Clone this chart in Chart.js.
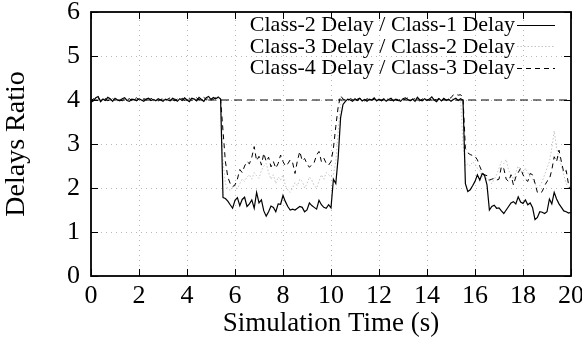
<!DOCTYPE html>
<html><head><meta charset="utf-8">
<script src="https://cdn.jsdelivr.net/npm/chart.js@4"></script>
<style>html,body{margin:0;padding:0;background:#fff;}canvas{display:block;}</style>
</head><body>
<canvas id="c" width="582" height="341"></canvas>
<script>
const times = [
0,0.1,0.2,0.3,0.4,0.5,0.6,0.7,0.8,0.9,
1,1.1,1.2,1.3,1.4,1.5,1.6,1.7,1.8,1.9,
2,2.1,2.2,2.3,2.4,2.5,2.6,2.7,2.8,2.9,
3,3.1,3.2,3.3,3.4,3.5,3.6,3.7,3.8,3.9,
4,4.1,4.2,4.3,4.4,4.5,4.6,4.7,4.8,4.9,
5,5.1,5.2,5.3,5.4,5.5,5.6,5.7,5.8,5.9,
6,6.1,6.2,6.3,6.4,6.5,6.6,6.7,6.8,6.9,
7,7.1,7.2,7.3,7.4,7.5,7.6,7.7,7.8,7.9,
8,8.1,8.2,8.3,8.4,8.5,8.6,8.7,8.8,8.9,
9,9.1,9.2,9.3,9.4,9.5,9.6,9.7,9.8,9.9,
10,10.1,10.2,10.3,10.4,10.5,10.6,10.7,10.8,10.9,
11,11.1,11.2,11.3,11.4,11.5,11.6,11.7,11.8,11.9,
12,12.1,12.2,12.3,12.4,12.5,12.6,12.7,12.8,12.9,
13,13.1,13.2,13.3,13.4,13.5,13.6,13.7,13.8,13.9,
14,14.1,14.2,14.3,14.4,14.5,14.6,14.7,14.8,14.9,
15,15.1,15.2,15.3,15.4,15.5,15.6,15.7,15.8,15.9,
16,16.1,16.2,16.3,16.4,16.5,16.6,16.7,16.8,16.9,
17,17.1,17.2,17.3,17.4,17.5,17.6,17.7,17.8,17.9,
18,18.1,18.2,18.3,18.4,18.5,18.6,18.7,18.8,18.9,
19,19.1,19.2,19.3,19.4,19.5,19.6,19.7,19.8,19.9,
20];

const seriesNames = ['Class-2 Delay / Class-1 Delay','Class-3 Delay / Class-2 Delay','Class-4 Delay / Class-3 Delay'];

const class2over1 = [
3.95,3.98,4.05,4.08,3.96,4.02,3.99,4.06,4.03,3.97,
4.04,4.00,3.98,4.03,4.05,3.99,3.97,4.02,4.01,3.98,
4.03,4.00,3.97,4.02,4.04,3.99,4.01,3.98,4.03,4.00,
3.97,4.02,4.00,3.98,4.04,4.01,3.97,4.03,3.99,4.05,
4.00,3.96,4.04,4.02,3.98,4.06,4.01,3.97,4.05,4.08,
4.01,4.06,4.03,4.07,4.02,1.78,1.76,1.70,1.62,1.54,
1.72,1.78,1.60,1.74,1.79,1.58,1.64,1.73,1.54,1.90,
1.66,1.73,1.48,1.36,1.46,1.59,1.56,1.46,1.64,1.63,
1.83,1.69,1.58,1.50,1.52,1.50,1.54,1.58,1.56,1.46,
1.50,1.66,1.60,1.56,1.52,1.72,1.62,1.56,1.54,1.62,
1.55,2.20,2.10,2.70,3.60,3.90,3.97,4.02,4.00,3.97,
4.03,3.99,4.04,3.98,4.01,3.97,4.02,4.00,4.05,3.98,
4.02,3.99,4.03,3.97,4.01,4.04,3.98,4.02,4.00,3.97,
4.03,4.05,4.01,3.98,4.02,3.97,4.06,4.00,3.98,4.03,
3.99,4.02,4.07,4.00,3.96,4.03,3.98,4.04,3.99,4.02,
3.97,4.01,4.04,3.99,4.03,4.00,2.10,1.92,1.96,2.05,
2.15,2.30,2.18,2.33,2.28,2.07,1.50,1.58,1.61,1.54,
1.55,1.48,1.42,1.50,1.58,1.66,1.69,1.64,1.80,1.68,
1.65,1.73,1.62,1.66,1.55,1.28,1.33,1.46,1.45,1.42,
1.46,1.75,1.64,1.90,1.75,1.64,1.56,1.48,1.46,1.43,
1.45];

const class3over2 = [
4.01,3.99,4.02,4.00,3.98,4.01,4.03,4.00,3.99,4.02,
4.00,3.98,4.01,4.03,4.00,3.99,4.02,4.01,3.98,4.00,
4.02,4.00,3.99,4.01,4.03,4.00,3.98,4.01,4.02,3.99,
4.01,4.00,4.02,3.98,4.00,4.03,4.01,3.99,4.00,4.02,
3.99,4.01,4.00,4.03,4.01,3.98,4.00,4.02,4.01,4.00,
4.02,4.00,4.01,4.03,4.00,2.60,2.10,1.98,1.95,2.00,
2.05,1.98,2.10,2.20,2.15,2.25,2.30,2.20,2.35,2.28,
2.22,2.40,2.50,2.56,2.35,2.20,2.30,2.10,2.25,2.18,
2.30,2.05,1.95,1.90,2.00,2.12,2.05,2.20,2.15,2.00,
2.10,2.25,2.18,2.05,2.00,2.15,2.30,2.20,2.35,2.30,
2.25,2.30,2.60,3.30,3.90,4.00,4.01,3.99,4.02,4.00,
3.98,4.01,4.03,4.00,3.99,4.02,4.00,4.01,3.98,4.00,
4.02,4.00,3.99,4.01,4.03,4.00,3.98,4.01,4.02,4.00,
3.99,4.01,4.02,4.00,4.03,3.99,4.01,4.00,4.02,3.98,
4.00,4.02,4.01,3.99,4.00,4.03,4.01,4.00,3.99,4.02,
4.01,4.03,4.02,4.01,4.00,3.00,2.50,2.55,2.50,2.60,
2.55,2.45,2.40,2.25,2.30,2.20,2.15,2.10,2.20,2.30,
2.45,2.60,2.55,2.65,2.40,2.30,2.20,2.35,2.50,2.40,
2.30,2.45,2.35,2.25,2.20,2.10,2.00,2.05,2.15,2.30,
2.45,2.60,2.90,3.30,2.90,2.70,2.50,2.30,2.10,2.00,
2.05];

const class4over3 = [
3.98,4.03,4.00,4.05,3.99,4.02,4.04,3.98,4.01,4.03,
3.99,4.04,4.01,3.98,4.02,4.00,4.03,3.99,4.02,4.05,
4.00,3.98,4.03,4.01,3.99,4.04,4.00,4.02,3.98,4.01,
4.03,3.99,4.02,4.05,4.00,3.98,4.02,4.01,4.04,3.99,
4.02,4.04,3.99,4.01,4.05,4.00,4.03,4.06,4.01,4.04,
4.03,4.02,4.05,4.04,4.02,3.30,2.60,2.25,2.10,2.03,
2.07,2.20,2.42,2.35,2.50,2.60,2.55,2.70,2.94,2.62,
2.72,2.52,2.79,2.60,2.70,2.48,2.60,2.45,2.56,2.75,
2.60,2.50,2.55,2.64,2.58,2.33,2.62,2.83,2.62,2.67,
2.55,2.47,2.53,2.58,2.75,2.83,2.60,2.68,2.56,2.52,
2.60,2.90,3.40,3.85,4.10,4.02,4.00,3.98,4.03,4.01,
3.99,4.02,4.04,4.00,3.98,4.03,4.01,3.99,4.02,4.00,
4.03,3.98,4.01,4.04,4.00,3.99,4.02,4.01,3.98,4.03,
4.00,4.02,4.05,3.99,4.01,4.03,4.00,3.98,4.02,4.04,
4.01,3.99,4.03,4.02,4.00,4.04,3.98,4.02,4.01,4.03,
4.05,4.12,4.13,4.11,4.12,4.05,2.90,2.80,2.76,2.74,
2.72,2.64,2.49,2.36,2.30,2.28,2.18,2.20,2.22,2.18,
2.20,2.49,2.44,2.20,2.15,2.30,2.07,2.25,2.35,2.45,
2.30,2.20,2.15,2.33,2.30,2.11,1.90,1.88,1.92,2.05,
2.15,2.20,2.41,2.71,2.60,2.86,2.60,2.35,2.40,2.07,
1.95];

const refTimes = [0, 20];
const refValues = [4, 4];
const xTicks = [0,2,4,6,8,10,12,14,16,18,20];
const yTicks = [0,1,2,3,4,5,6];
const xTitle = 'Simulation Time (s)';
const yTitle = 'Delays Ratio';

const FONT = '"Liberation Serif", "Times New Roman", serif';

function pts(xs, ys) { return xs.map((x, i) => ({ x: x, y: ys[i] })); }

const styles = [
  { color: '#000000', width: 1.2, dash: [] },
  { color: '#c4c4c4', width: 1, dash: [1.5, 2] },
  { color: '#000000', width: 1, dash: [5, 4] }
];

const framePlugin = {
  id: 'framePlugin',
  beforeDraw(chart) {
    const ctx = chart.ctx;
    ctx.save();
    ctx.fillStyle = '#fff';
    ctx.fillRect(0, 0, chart.width, chart.height);
    ctx.restore();
  },
  beforeDatasetsDraw(chart) {
    const ctx = chart.ctx, a = chart.chartArea;
    const xs = chart.scales.x, ys = chart.scales.y;
    ctx.save();
    ctx.strokeStyle = '#b8b8b8';
    ctx.lineWidth = 1;
    ctx.setLineDash([1, 4]);
    xTicks.forEach(v => {
      if (v === xs.min || v === xs.max) return;
      const x = Math.round(xs.getPixelForValue(v)) + 0.5;
      ctx.beginPath(); ctx.moveTo(x, a.bottom); ctx.lineTo(x, a.top); ctx.stroke();
    });
    yTicks.forEach(v => {
      if (v === ys.min || v === ys.max) return;
      const y = Math.round(ys.getPixelForValue(v)) + 0.5;
      ctx.beginPath(); ctx.moveTo(a.left, y); ctx.lineTo(a.right, y); ctx.stroke();
    });
    ctx.restore();
  },
  afterDatasetsDraw(chart) {
    const ctx = chart.ctx, a = chart.chartArea;
    const xs = chart.scales.x, ys = chart.scales.y;
    ctx.save();
    ctx.strokeStyle = '#000';
    ctx.setLineDash([]);
    ctx.lineWidth = 1;
    const tl = 7;
    xTicks.forEach(v => {
      const x = Math.round(xs.getPixelForValue(v)) + 0.5;
      ctx.beginPath(); ctx.moveTo(x, a.bottom); ctx.lineTo(x, a.bottom - tl); ctx.stroke();
      ctx.beginPath(); ctx.moveTo(x, a.top); ctx.lineTo(x, a.top + tl); ctx.stroke();
    });
    yTicks.forEach(v => {
      const y = Math.round(ys.getPixelForValue(v)) + 0.5;
      ctx.beginPath(); ctx.moveTo(a.left, y); ctx.lineTo(a.left + tl, y); ctx.stroke();
      ctx.beginPath(); ctx.moveTo(a.right, y); ctx.lineTo(a.right - tl, y); ctx.stroke();
    });
    ctx.lineWidth = 1.8;
    ctx.strokeRect(a.left, a.top, a.right - a.left, a.bottom - a.top);

    // key (legend)
    ctx.font = '22px ' + FONT;
    ctx.fillStyle = '#000';
    ctx.textAlign = 'right';
    ctx.textBaseline = 'middle';
    const textRight = a.right - 56;
    const lineL = a.right - 54, lineR = a.right - 16;
    seriesNames.forEach((name, i) => {
      const y = a.top + 12.5 + i * 21.5;
      ctx.fillText(name, textRight, y + 1);
      const s = styles[i];
      ctx.strokeStyle = s.color;
      ctx.lineWidth = s.width;
      ctx.setLineDash(s.dash);
      ctx.beginPath(); ctx.moveTo(lineL, Math.round(y) + 0.5); ctx.lineTo(lineR, Math.round(y) + 0.5); ctx.stroke();
    });
    ctx.restore();
  }
};

new Chart(document.getElementById('c'), {
  type: 'line',
  data: {
    datasets: [
      { label: seriesNames[0], data: pts(times, class2over1), borderColor: styles[0].color, borderWidth: styles[0].width, borderDash: styles[0].dash, order: 0 },
      { label: seriesNames[1], data: pts(times, class3over2), borderColor: styles[1].color, borderWidth: styles[1].width, borderDash: styles[1].dash, order: 2 },
      { label: seriesNames[2], data: pts(times, class4over3), borderColor: styles[2].color, borderWidth: styles[2].width, borderDash: styles[2].dash, order: 1 },
      { label: 'ref', data: pts(refTimes, refValues), borderColor: '#000', borderWidth: 1, borderDash: [8, 5], order: 3 }
    ]
  },
  options: {
    responsive: false,
    animation: false,
    devicePixelRatio: 1,
    layout: { padding: { top: 12, right: 11, left: 0, bottom: 0 } },
    plugins: { legend: { display: false }, tooltip: { enabled: false } },
    elements: { point: { radius: 0 }, line: { tension: 0, fill: false } },
    scales: {
      x: {
        type: 'linear', min: 0, max: 20,
        afterBuildTicks: s => { s.ticks = xTicks.map(v => ({ value: v })); },
        grid: { display: false, drawTicks: false, tickLength: 0 },
        border: { display: false },
        ticks: { font: { family: FONT, size: 26 }, color: '#000', padding: 5, maxRotation: 0, autoSkip: false },
        title: { display: true, text: xTitle, font: { family: FONT, size: 27, lineHeight: 1 }, color: '#000', padding: { top: 0, bottom: 4 } },
        afterFit: s => { s.height = 65; s.paddingLeft = 0; s.paddingRight = 0; }
      },
      y: {
        type: 'linear', min: 0, max: 6,
        afterBuildTicks: s => { s.ticks = yTicks.map(v => ({ value: v })); },
        grid: { display: false, drawTicks: false, tickLength: 0 },
        border: { display: false },
        ticks: { font: { family: FONT, size: 26 }, color: '#000', padding: 11, autoSkip: false },
        title: { display: true, text: yTitle, font: { family: FONT, size: 28, lineHeight: 1 }, color: '#000', padding: { top: 3, bottom: 0 } },
        afterFit: s => { s.width = 91; s.paddingTop = 0; s.paddingBottom = 0; }
      }
    }
  },
  plugins: [framePlugin]
});
</script>
</body></html>
